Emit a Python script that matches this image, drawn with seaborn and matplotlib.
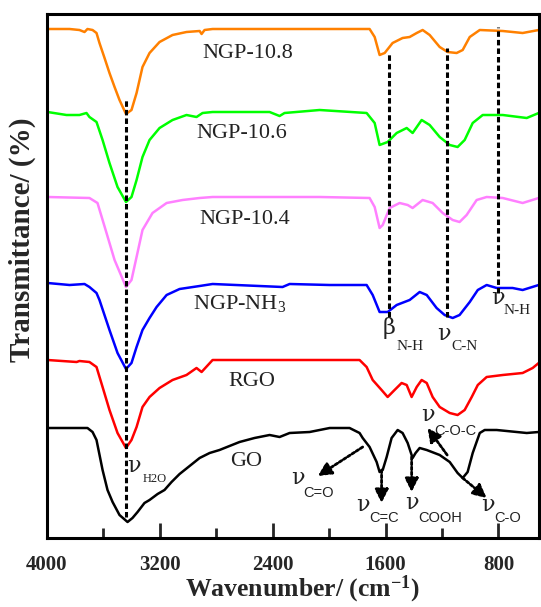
import matplotlib
matplotlib.use('Agg')
import matplotlib.pyplot as plt
import pandas as pd
import seaborn as sns

# FTIR spectra, stacked; transmittance in arbitrary offset units
go_wn = [4000, 3713, 3677, 3649, 3606, 3571, 3535, 3486, 3429, 3394, 3358, 3309, 3273, 3216, 3167,
         3117, 3060, 2989, 2918, 2847, 2777, 2706, 2635, 2529, 2422, 2351, 2280, 2138, 1996, 1855,
         1784, 1762, 1713, 1663, 1642, 1620, 1592, 1557, 1514, 1479, 1443, 1408, 1387, 1358, 1308,
         1216, 1145, 1089, 1053, 1018, 982, 932, 897, 812, 670, 599, 514]
go_t = [110, 110, 106, 98, 68, 48, 36, 23, 16, 20, 26, 35, 38, 44, 48,
        56, 64, 72, 80, 85, 88, 92, 96, 100, 103, 101, 105, 106, 110, 110,
        105, 100, 91, 76, 66, 68, 81, 100, 108, 105, 95, 80, 85, 90, 88,
        83, 76, 65, 60, 66, 85, 105, 108, 108, 106, 105, 106]

rgo_wn = [3996, 3790, 3770, 3699, 3649, 3606, 3557, 3500, 3440, 3401, 3365, 3323, 3273, 3202, 3110,
          3011, 2940, 2904, 2826, 2422, 1784, 1734, 1691, 1628, 1585, 1536, 1486, 1450, 1415, 1379,
          1344, 1308, 1266, 1216, 1145, 1089, 1039, 989, 946, 883, 769, 628, 557, 514]
rgo_t = [178, 176, 177, 176, 171, 151, 128, 105, 90, 98, 111, 131, 141, 150, 158,
         163, 170, 166, 178, 178, 178, 171, 158, 148, 141, 148, 155, 153, 141, 151,
         158, 155, 141, 131, 125, 123, 128, 141, 153, 161, 163, 165, 170, 175]

nh3_wn = [3996, 3840, 3734, 3699, 3649, 3628, 3557, 3500, 3440, 3401, 3365, 3323, 3273, 3223, 3152,
          3060, 2918, 2826, 2330, 2280, 1996, 1734, 1691, 1642, 1585, 1521, 1429, 1358, 1308, 1238,
          1181, 1124, 1075, 1003, 946, 883, 812, 699, 628, 514]
nh3_t = [255, 253, 254, 251, 245, 238, 208, 185, 169, 175, 191, 208, 220, 231, 243,
         249, 252, 254, 251, 254, 253, 253, 243, 226, 226, 233, 238, 246, 243, 230,
         223, 220, 223, 236, 248, 253, 250, 250, 248, 253]

ngp104_wn = [3996, 3699, 3642, 3578, 3521, 3440, 3401, 3365, 3323, 3252, 3152, 3039, 2918, 2826, 2067,
             1713, 1677, 1642, 1620, 1571, 1500, 1443, 1408, 1337, 1266, 1195, 1124, 1075, 1025, 954,
             883, 769, 628, 514]
ngp104_t = [341, 340, 335, 305, 278, 251, 258, 281, 308, 325, 335, 338, 340, 341, 341,
            340, 331, 310, 313, 330, 335, 333, 330, 338, 335, 325, 318, 316, 323, 338,
            341, 340, 335, 340]

ngp106_wn = [3996, 3862, 3770, 3720, 3699, 3649, 3606, 3557, 3500, 3440, 3401, 3365, 3323, 3273, 3202,
             3110, 3011, 2940, 2897, 2826, 2422, 2351, 2316, 2067, 1734, 1677, 1642, 1585, 1521, 1450,
             1408, 1344, 1287, 1216, 1145, 1089, 1039, 982, 911, 769, 599, 514]
ngp106_t = [426, 423, 423, 425, 421, 416, 398, 375, 351, 336, 341, 358, 381, 398, 410,
            418, 423, 421, 425, 426, 426, 422, 425, 428, 425, 415, 393, 396, 405, 410,
            405, 418, 413, 401, 393, 391, 398, 415, 423, 423, 420, 425]

ngp108_wn = [4000, 3840, 3770, 3734, 3713, 3677, 3649, 3628, 3592, 3557, 3521, 3486, 3440, 3401, 3365,
             3323, 3273, 3202, 3110, 3011, 2918, 2904, 2883, 2826, 2422, 1713, 1677, 1642, 1606, 1550,
             1479, 1429, 1379, 1337, 1287, 1216, 1160, 1096, 1053, 1003, 932, 769, 628, 514]
ngp108_t = [509, 509, 508, 506, 509, 508, 505, 495, 480, 465, 451, 438, 424, 428, 445,
            471, 485, 496, 503, 506, 507, 504, 508, 509, 509, 509, 501, 483, 485, 495,
            500, 501, 505, 508, 503, 491, 486, 485, 488, 501, 508, 507, 505, 508]

samples = ['GO', 'RGO', 'NGP-NH3', 'NGP-10.4', 'NGP-10.6', 'NGP-10.8']
colors = ['#000000', '#FF0000', '#0000FF', '#FF80FF', '#00FF00', '#FF8000']

# dashed guide lines: wavenumber, lower and upper end
guide_wn = [3440, 1573, 1163, 800]
guide_lo = [21, 221, 221, 245]
guide_hi = [438, 485, 490, 511]

# sample names (x, y)
name_text = ['NGP-10.8', 'NGP-10.6', 'NGP-10.4', 'NGP-NH$_{3}$', 'RGO', 'GO']
name_x = [2578, 2620, 2600, 2635, 2550, 2590]
name_y = [485, 404, 318, 235, 156, 76]

# band assignments: symbol, subscript, symbol pos, subscript pos
band_sym = ['ν', 'β', 'ν', 'ν', 'ν', 'ν', 'ν', 'ν', 'ν']
band_sub = ['H2O', 'N-H', 'C-N', 'N-H', 'C=O', 'C=C', 'COOH', 'C-O-C', 'C-O']
band_sym_xy = [(3386, 72), (1578, 210), (1188, 204), (805, 240), (2223, 60),
               (1762, 33), (1415, 35), (1302, 123), (876, 33)]
band_sub_xy = [(3238, 59), (1429, 192), (1039, 192), (670, 227), (2074, 45),
               (1613, 20), (1216, 20), (1103, 107), (734, 20)]
band_serif = [True, True, True, True, False, False, False, False, False]

# dotted arrows on GO: from curve point to label
arrow_from = [(1762, 91), (1628, 68), (1415, 81), (1163, 83), (1053, 60)]
arrow_to = [(2080, 62), (1628, 35), (1415, 46), (1302, 110), (883, 40)]

sns.set_theme(style='white')
plt.rcParams['font.family'] = ['Liberation Serif', 'DejaVu Serif']
plt.rcParams['mathtext.fontset'] = 'custom'
plt.rcParams['mathtext.rm'] = 'Liberation Serif'
plt.rcParams['mathtext.it'] = 'Liberation Serif:italic'
plt.rcParams['mathtext.bf'] = 'Liberation Serif:bold'

frames = []
for name, wn, t in [('GO', go_wn, go_t), ('RGO', rgo_wn, rgo_t), ('NGP-NH3', nh3_wn, nh3_t),
                    ('NGP-10.4', ngp104_wn, ngp104_t), ('NGP-10.6', ngp106_wn, ngp106_t),
                    ('NGP-10.8', ngp108_wn, ngp108_t)]:
    frames.append(pd.DataFrame({'wavenumber': wn, 'transmittance': t, 'sample': name}))
df = pd.concat(frames, ignore_index=True)

fig = plt.figure(figsize=(5.41, 6.07), dpi=100)
ax = fig.add_axes([47 / 541, 69 / 607, 492 / 541, 524 / 607])

sns.lineplot(data=df, x='wavenumber', y='transmittance', hue='sample', hue_order=samples,
             palette=colors, estimator=None, sort=False, linewidth=1.8, legend=False, ax=ax)

for wn, lo, hi in zip(guide_wn, guide_lo, guide_hi):
    ax.plot([wn, wn], [lo, hi], color='black', lw=2.2, ls=(0, (1.8, 1.0)), zorder=3)

for txt, x, y in zip(name_text, name_x, name_y):
    ax.text(x, y, txt, fontsize=16, ha='center', va='center', color='#222222')

for sym, sub, (sx, sy), (bx, by), serif in zip(band_sym, band_sub, band_sym_xy, band_sub_xy, band_serif):
    ax.text(sx, sy, sym, fontsize=16, ha='center', va='center', family='DejaVu Serif', color='#222222')
    if sub == 'H2O':
        ax.text(bx, by, sub, fontsize=9, ha='center', va='center', color='#222222')
    elif serif:
        ax.text(bx, by, sub, fontsize=11, ha='center', va='center', color='#222222')
    else:
        ax.text(bx, by, sub, fontsize=10.5, ha='center', va='center',
                family='Liberation Sans', color='#222222')

for (x0, y0), (x1, y1) in zip(arrow_from, arrow_to):
    ax.annotate('', xy=(x1, y1), xytext=(x0, y0),
                arrowprops=dict(arrowstyle='-|>', color='black', lw=2.0, ls=(0, (1, 0.8)),
                                mutation_scale=20, shrinkA=0, shrinkB=0))

ax.set_xlim(4000, 512)
ax.set_ylim(0, 524)
ax.set_xticks([4000, 3200, 2400, 1600, 800])
ax.set_xticks([3600, 2800, 2000, 1200], minor=True)
ax.set_yticks([])
ax.tick_params(axis='x', which='major', direction='in', length=11, width=2, pad=12,
               labelsize=15, bottom=True)
ax.tick_params(axis='x', which='minor', direction='in', length=7, width=2, bottom=True)
for lab in ax.get_xticklabels():
    lab.set_fontweight('bold')
for sp in ax.spines.values():
    sp.set_linewidth(2.2)
    sp.set_color('black')

ax.set_xlabel('Wavenumber/ (cm$^{\\mathbf{-1}}$)', fontsize=18.5, fontweight='bold')
ax.xaxis.set_label_coords((302 - 47) / 492, (538 - 589) / 524)
ax.xaxis.label.set_va('center')
ax.set_ylabel('Transmittance/ (%)', fontsize=21, fontweight='bold')
ax.yaxis.set_label_coords((22 - 47) / 492, (538 - 240) / 524)
ax.yaxis.label.set_va('center')

fig.savefig('out.png', dpi=100)
